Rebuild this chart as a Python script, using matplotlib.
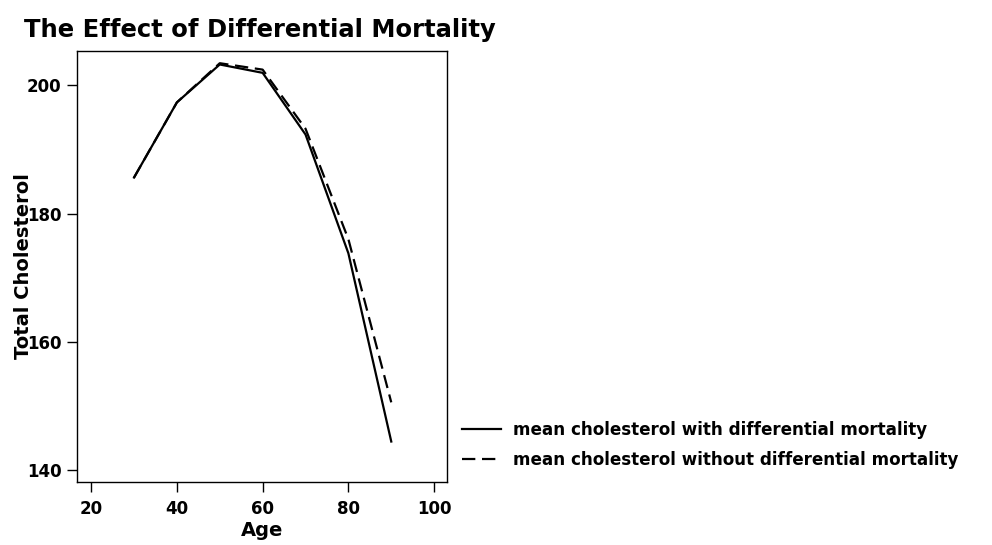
import matplotlib
matplotlib.use("Agg")
import matplotlib.pyplot as plt

plt.rcParams['font.family'] = ['DejaVu Sans']
plt.rcParams['font.weight'] = 'bold'

age = [30, 40, 50, 60, 70, 80, 90]
with_mortality = [185.6, 197.3, 203.2, 201.9, 192.3, 173.8, 144.5]
without_mortality = [185.6, 197.3, 203.4, 202.4, 193.2, 176.0, 150.6]

x_ticks = [20, 40, 60, 80, 100]
y_ticks = [140, 160, 180, 200]

fig = plt.figure(figsize=(9.92, 5.45), dpi=100)
ax = fig.add_axes([77/992, 1 - 482/545, 370/992, 431/545])

ax.plot(age, with_mortality, color='black', lw=1.6,
        label='mean cholesterol with differential mortality')
ax.plot(age, without_mortality, color='black', lw=1.6, dashes=(6, 3),
        label='mean cholesterol without differential mortality')

ax.set_xlim(16.7, 103)
ax.set_ylim(138.2, 205.3)
ax.set_xticks(x_ticks)
ax.set_yticks(y_ticks)
ax.tick_params(axis='both', labelsize=12, length=7, width=1, color='black')
ax.tick_params(axis='x', pad=6)
ax.tick_params(axis='y', pad=4)
for lab in ax.get_xticklabels() + ax.get_yticklabels():
    lab.set_fontweight('bold')
for s in ax.spines.values():
    s.set_linewidth(1.0)
    s.set_color('black')

# the y label sits over the tick labels, as in the original
ax.set_xlabel('Age', fontsize=14, fontweight='bold')
ax.set_ylabel('Total Cholesterol', fontsize=14, fontweight='bold')
ax.xaxis.set_label_coords(0.5, -0.09)
ax.yaxis.set_label_coords(-0.12, 0.5)

fig.text(24/992, 1 - 37/545, 'The Effect of Differential Mortality',
         fontsize=17.5, fontweight='bold', va='baseline', ha='left')

fig.legend(loc='center left', bbox_to_anchor=(447/992, 1 - 445/545),
           frameon=False, handlelength=2.3,
           handletextpad=0.7, labelspacing=0.75,
           prop={'weight': 'bold', 'size': 12.1})

fig.savefig('out.png', dpi=100)
